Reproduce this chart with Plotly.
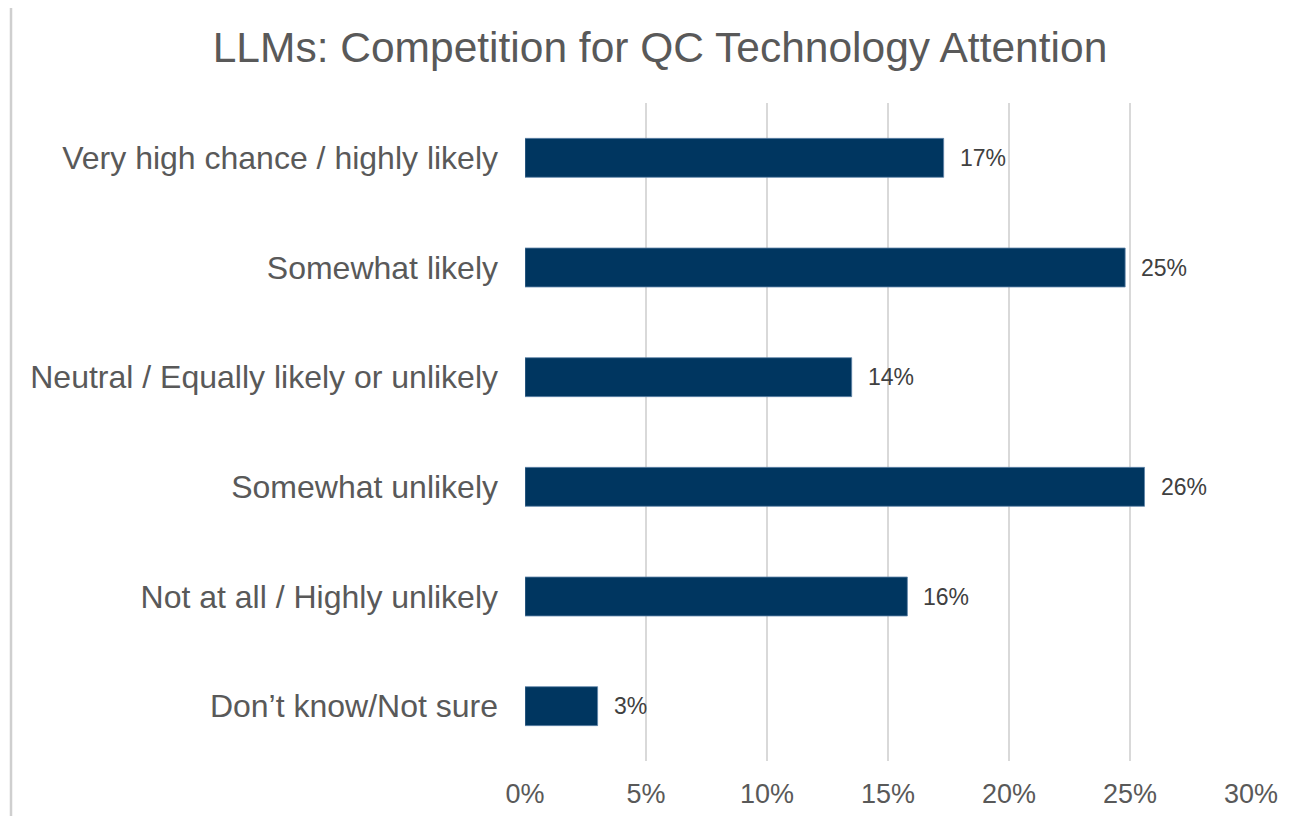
import plotly.graph_objects as go

categories = [
    "Very high chance / highly likely",
    "Somewhat likely",
    "Neutral / Equally likely or unlikely",
    "Somewhat unlikely",
    "Not at all / Highly unlikely",
    "Don\u2019t know/Not sure",
]
values = [17.3, 24.8, 13.5, 25.6, 15.8, 3.0]
value_labels = ["17%", "25%", "14%", "26%", "16%", "3%"]
tick_vals = [0, 5, 10, 15, 20, 25, 30]
tick_text = ["0%", "5%", "10%", "15%", "20%", "25%", "30%"]

# page body has an 8px margin, so the figure is offset by 8px
OFF = 8
W, H = 1294 - 2 * OFF, 824 - 2 * OFF
L, T = 525 - OFF, 103 - OFF
R = W + OFF - 1251
B = H + OFF - 761
PW, PH = W - L - R, H - T - B

fig = go.Figure()
fig.add_trace(go.Bar(
    y=categories,
    x=values,
    orientation="h",
    width=0.355,
    marker=dict(color="#003660", line=dict(color="#5f84a8", width=0.8)),
    hoverinfo="skip",
))

for c, v, t in zip(categories, values, value_labels):
    fig.add_annotation(
        x=v, y=c, text=t, showarrow=False, xanchor="left", yanchor="middle",
        xshift=14, font=dict(family="Liberation Sans, Arial, sans-serif", size=23, color="#404040"),
    )

# left border shadow of the chart frame
xl = (11 - OFF - L) / PW
fig.add_shape(type="line", xref="paper", yref="paper",
              x0=xl, x1=xl, y0=-B / PH, y1=1 + T / PH,
              line=dict(color="#cfcfcf", width=2.5))

fig.update_layout(
    width=W, height=H,
    margin=dict(l=L, r=R, t=T, b=B, autoexpand=False),
    paper_bgcolor="white", plot_bgcolor="white",
    showlegend=False,
    font=dict(family="Liberation Sans, Arial, sans-serif", color="#595959"),
    title=dict(
        text="LLMs: Competition for QC Technology Attention",
        x=(660 - OFF) / W, xref="container", xanchor="center",
        y=1 - (47 - OFF) / H, yref="container", yanchor="middle",
        font=dict(size=42.5, color="#595959"),
    ),
    xaxis=dict(
        range=[0, 30], tickvals=tick_vals, ticktext=tick_text,
        showgrid=True, gridcolor="#d9d9d9", gridwidth=1.5,
        zeroline=False, showline=False, ticks="",
        tickfont=dict(size=27, color="#595959"),
        ticklabelstandoff=14,
        fixedrange=True,
    ),
    yaxis=dict(
        categoryorder="array", categoryarray=categories[::-1],
        showgrid=False, zeroline=False, showline=False, ticks="",
        tickfont=dict(size=32, color="#595959"),
        ticklabelstandoff=26,
        fixedrange=True,
    ),
)

fig.write_html("out.html")
